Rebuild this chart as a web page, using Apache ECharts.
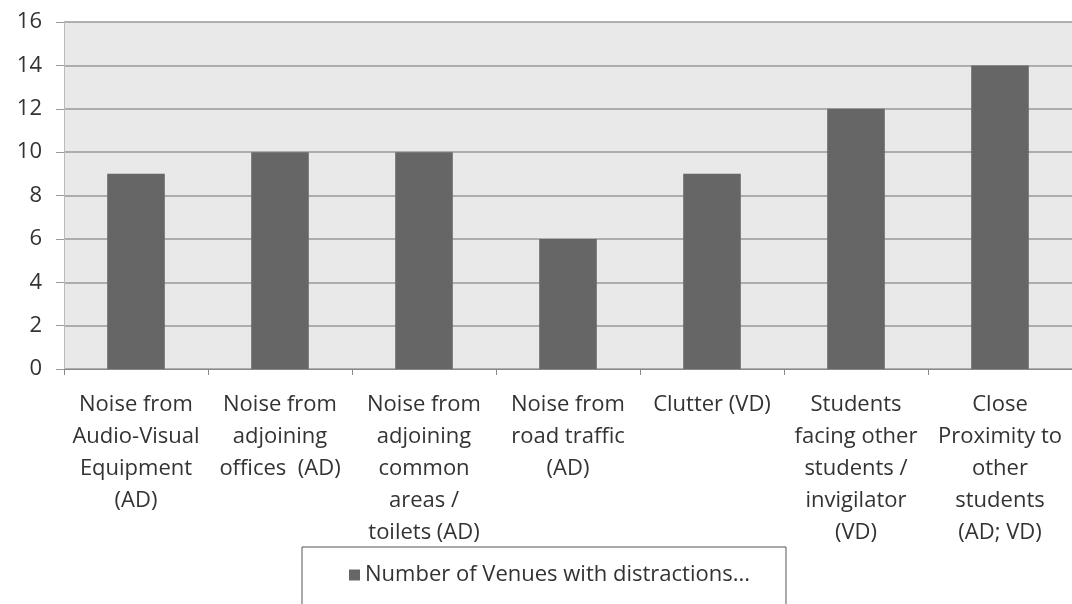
<!DOCTYPE html>
<html><head><meta charset="utf-8">
<script src="https://cdn.jsdelivr.net/npm/echarts@6/dist/echarts.min.js"></script>
<style>html,body{margin:0;padding:0;background:#fff}#c{width:1072px;height:604px}</style>
</head><body><div id="c"></div>
<script>
const categories = [
  "Noise from\nAudio-Visual\nEquipment\n(AD)",
  "Noise from\nadjoining\noffices  (AD)",
  "Noise from\nadjoining\ncommon\nareas /\ntoilets (AD)",
  "Noise from\nroad traffic\n(AD)",
  "Clutter (VD)",
  "Students\nfacing other\nstudents /\ninvigilator\n(VD)",
  "Close\nProximity to\nother\nstudents\n(AD; VD)"
];
const venues = [9, 10, 10, 6, 9, 12, 14];
const seriesName = "Number of Venues with distractions...";
const yTicks = {min: 0, max: 16, interval: 2};

const FONT = 'Open Sans';
const chart = echarts.init(document.getElementById('c'), null, {renderer: 'canvas'});
chart.setOption({
  animation: false,
  textStyle: {fontFamily: FONT},
  grid: {left: 64, right: 0, top: 22, bottom: 235, show: true, backgroundColor: '#e9e9e9', borderWidth: 0},
  legend: {
    left: 302, top: 547,
    data: [seriesName],
    icon: 'rect', itemWidth: 11, itemHeight: 11, itemGap: 4,
    borderColor: '#555', borderWidth: 1,
    padding: [17, 36, 30, 47],
    textStyle: {fontSize: 22, color: '#333', fontFamily: FONT, letterSpacing: -0.4}
  },
  xAxis: {
    type: 'category', data: categories,
    axisLine: {show: true, lineStyle: {color: '#888', width: 1}},
    axisTick: {show: true, length: 6, lineStyle: {color: '#888'}},
    axisLabel: {interval: 0, fontSize: 22, lineHeight: 32, color: '#333', margin: 20, align: 'center', fontFamily: FONT}
  },
  yAxis: {
    type: 'value', min: yTicks.min, max: yTicks.max, interval: yTicks.interval,
    axisLine: {show: true, lineStyle: {color: '#bbb'}},
    axisTick: {show: true, length: 8, lineStyle: {color: '#999'}},
    axisLabel: {fontSize: 22, color: '#333', margin: 22, fontFamily: FONT},
    splitLine: {show: true, lineStyle: {color: '#999', width: 1.5}}
  },
  series: [{
    name: seriesName, type: 'bar', data: venues, barWidth: '40%',
    itemStyle: {color: '#666666'}
  }]
});
</script></body></html>
